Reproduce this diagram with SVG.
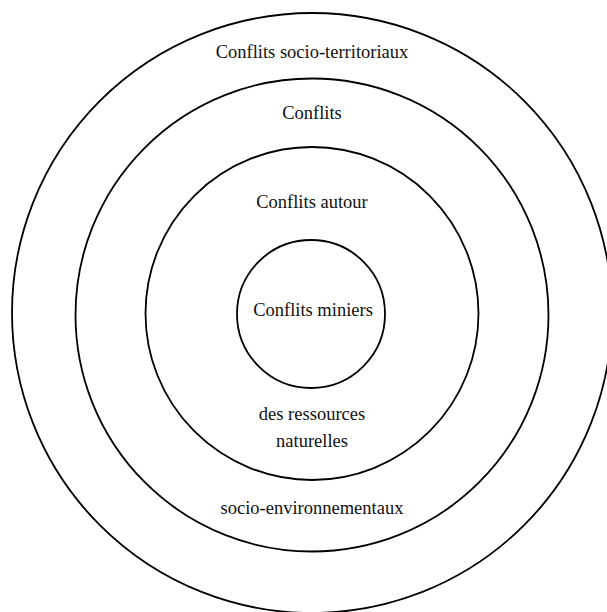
<svg xmlns="http://www.w3.org/2000/svg" width="607" height="612" viewBox="0 0 607 612">
<style>
.ring{fill:none;stroke:#000;stroke-width:1.8}
.lbl{font-family:"Liberation Serif","Times New Roman",serif;font-size:18.5px;fill:#111;text-anchor:middle}
</style>
<rect width="607" height="612" fill="#fff"/>
<g id="outer"><circle class="ring" cx="312" cy="313" r="300"/><text class="lbl" x="312" y="58">Conflits socio-territoriaux</text></g>
<g id="ring2"><circle class="ring" cx="312" cy="315" r="236.5"/><text class="lbl" x="312" y="119">Conflits</text><text class="lbl" x="312" y="514">socio-environnementaux</text></g>
<g id="ring3"><circle class="ring" cx="312" cy="313.5" r="166.5"/><text class="lbl" x="312" y="208">Conflits autour</text><text class="lbl" x="312" y="420">des ressources</text><text class="lbl" x="312" y="447">naturelles</text></g>
<g id="inner"><circle class="ring" cx="311" cy="314" r="74"/><text class="lbl" x="313" y="316">Conflits miniers</text></g>
</svg>
